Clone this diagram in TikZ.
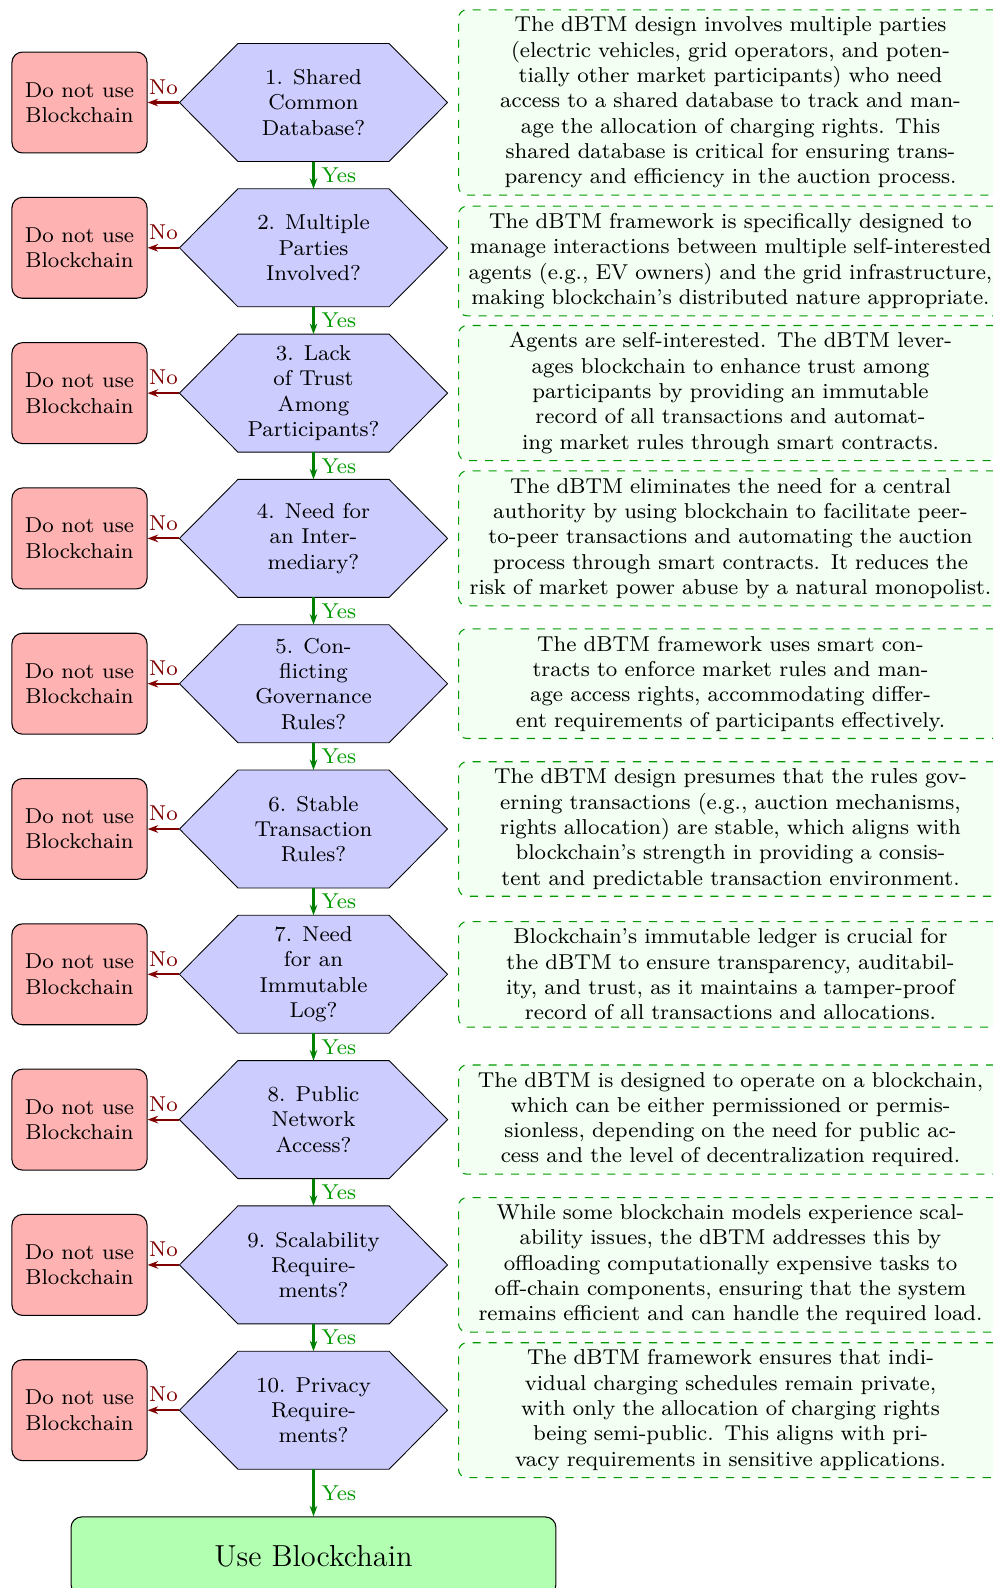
\documentclass[tikz,border=0pt]{standalone}
\usepackage{fontspec}
\setmainfont{lmroman8-regular.otf}[Ligatures=TeX]
\newfontfamily\bigfont{lmroman12-regular.otf}
\usetikzlibrary{arrows.meta,backgrounds}
\begin{document}
\begin{tikzpicture}[x=0.4737pt,y=-0.4737pt,
  font=\fontsize{10.2}{12}\selectfont,
  line width=0.5pt,
  hexbox/.style={minimum width=126.5pt, minimum height=55.4pt, inner sep=0pt, align=center},
  hexshape/.style={fill=blue!20, draw=black},
  nobox/.style={draw, fill=red!30, rounded corners=5pt, minimum width=64pt, minimum height=47.8pt, align=center, inner sep=2pt},
  notebox/.style={draw=green!60!black, dash pattern=on 3.8pt off 3.8pt, fill=green!5, rounded corners=4pt, text width=251pt, align=center, anchor=west},
  yesbox/.style={draw, fill=green!30, rounded corners=5pt, minimum width=229.7pt, minimum height=37pt, font=\bigfont\fontsize{14.4}{17}\selectfont},
  noarrow/.style={-{Stealth[length=5pt,width=3.6pt]}, line width=1pt, draw=red!50!black},
  yesarrow/.style={-{Stealth[length=5pt,width=3.6pt]}, line width=1pt, draw=green!50!black},
  nolab/.style={above, text=red!50!black},
  yeslab/.style={right, text=green!60!black}
]
\useasboundingbox (0,0) rectangle (993,1588);
\clip (0,0) rectangle (993,1588);

% decision nodes
\node[hexbox] (h1) at (313.5,102.5) {1.  Shared\\Common\\Database?};
\node[hexbox] (h2) at (313.5,247.8) {2.  Multiple\\Parties\\Involved?};
\node[hexbox] (h3) at (313.5,393.1) {3.  Lack\\of Trust\\Among\\Participants?};
\node[hexbox] (h4) at (313.5,538.4) {4.  Need for\\an Inter-\\mediary?};
\node[hexbox] (h5) at (313.5,683.7) {5.  Con-\\flicting\\Governance\\Rules?};
\node[hexbox] (h6) at (313.5,829.0) {6.  Stable\\Transaction\\Rules?};
\node[hexbox] (h7) at (313.5,974.3) {7.  Need\\for an\\Immutable\\Log?};
\node[hexbox] (h8) at (313.5,1119.6) {8.  Public\\Network\\Access?};
\node[hexbox] (h9) at (313.5,1264.9) {9.  Scalability\\Require-\\ments?};
\node[hexbox] (h10) at (313.5,1410.2) {10.  Privacy\\Require-\\ments?};

\begin{scope}[on background layer]
\foreach \i in {1,...,10} {
  \filldraw[hexshape] (h\i.west) -- ([xshift=27.7pt]h\i.north west) -- ([xshift=-27.7pt]h\i.north east)
    -- (h\i.east) -- ([xshift=-27.7pt]h\i.south east) -- ([xshift=27.7pt]h\i.south west) -- cycle;
}
\end{scope}

% "Do not use" boxes and arrows
\foreach \i/\y in {1/102.5,2/247.8,3/393.1,4/538.4,5/683.7,6/829.0,7/974.3,8/1119.6,9/1264.9,10/1410.2} {
  \node[nobox] (r\i) at (79.5,\y) {Do not use\\Blockchain};
  \draw[noarrow] (h\i.west) -- node[nolab] {No} (r\i.east);
}

% yes arrows
\foreach \i [evaluate=\i as \j using int(\i+1)] in {1,...,9} {
  \draw[yesarrow] (h\i.south) -- node[yeslab] {Yes} (h\j.north);
}

\node[yesbox] (use) at (313.5,1556) {Use Blockchain};
\draw[yesarrow] (h10.south) -- node[yeslab] {Yes} (use.north);

% explanation boxes
\node[notebox] (n1) at (458,102.5) {The dBTM design involves multiple parties\\(electric vehicles, grid operators, and poten-\\tially other market participants) who need\\access to a shared database to track and man-\\age the allocation of charging rights.  This\\shared database is critical for ensuring trans-\\parency and efficiency in the auction process.};
\node[notebox] (n2) at (458,261) {The dBTM framework is specifically designed to\\manage interactions between multiple self-interested\\agents (e.g., EV owners) and the grid infrastructure,\\making blockchain's distributed nature appropriate.};
\node[notebox] (n3) at (458,393.1) {Agents are self-interested.  The dBTM lever-\\ages blockchain to enhance trust among\\participants by providing an immutable\\record of all transactions and automat-\\ing market rules through smart contracts.};
\node[notebox] (n4) at (458,538.4) {The dBTM eliminates the need for a central\\authority by using blockchain to facilitate peer-\\to-peer transactions and automating the auction\\process through smart contracts.  It reduces the\\risk of market power abuse by a natural monopolist.};
\node[notebox] (n5) at (458,683.7) {The dBTM framework uses smart con-\\tracts to enforce market rules and man-\\age access rights, accommodating differ-\\ent requirements of participants effectively.};
\node[notebox] (n6) at (458,829.0) {The dBTM design presumes that the rules gov-\\erning transactions (e.g., auction mechanisms,\\rights allocation) are stable, which aligns with\\blockchain's strength in providing a consis-\\tent and predictable transaction environment.};
\node[notebox] (n7) at (458,974.3) {Blockchain's immutable ledger is crucial for\\the dBTM to ensure transparency, auditabil-\\ity, and trust, as it maintains a tamper-proof\\record of all transactions and allocations.};
\node[notebox] (n8) at (458,1119.6) {The dBTM is designed to operate on a blockchain,\\which can be either permissioned or permis-\\sionless, depending on the need for public ac-\\cess and the level of decentralization required.};
\node[notebox] (n9) at (458,1264.9) {While some blockchain models experience scal-\\ability issues, the dBTM addresses this by\\offloading computationally expensive tasks to\\off-chain components, ensuring that the system\\remains efficient and can handle the required load.};
\node[notebox] (n10) at (458,1410.2) {The dBTM framework ensures that indi-\\vidual charging schedules remain private,\\with only the allocation of charging rights\\being semi-public.  This aligns with pri-\\vacy requirements in sensitive applications.};
\end{tikzpicture}
\end{document}
